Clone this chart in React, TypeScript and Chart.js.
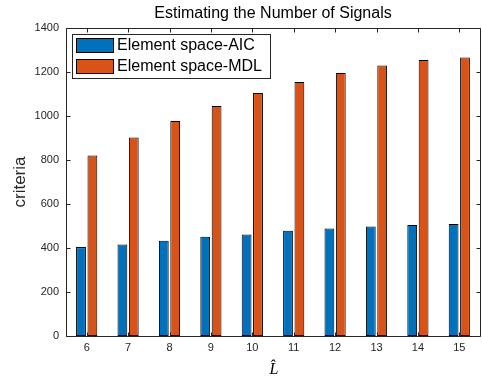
import React, { useEffect, useRef } from "react";
import { Chart, registerables } from "chart.js";

Chart.register(...registerables);

const categories = ["6", "7", "8", "9", "10", "11", "12", "13", "14", "15"];
const aicValues = [404, 416, 433, 451, 461, 478, 489, 498, 505, 509];
const mdlValues = [820, 902, 977, 1045, 1105, 1155, 1196, 1230, 1254, 1266];
const yMin = 0;
const yMax = 1400;
const yStep = 200;
const seriesNames = ["Element space-AIC", "Element space-MDL"];
const seriesColors = ["#0072BD", "#D95319"];
const titleText = "Estimating the Number of Signals";
const yLabelText = "criteria";
const xLabelText = "L\u0302";

const SANS = '"Liberation Sans", Arial, Helvetica, sans-serif';
const AXIS_COLOR = "#262626";

const decorPlugin = {
  id: "matlabDecor",
  afterDraw(chart: any) {
    const ctx = chart.ctx as CanvasRenderingContext2D;
    const { left, right, top, bottom } = chart.chartArea;
    const xs = chart.scales.x;
    const ys = chart.scales.y;
    const L = Math.round(left) + 0.5;
    const R = Math.round(right) + 0.5;
    const T = Math.round(top) + 0.5;
    const B = Math.round(bottom) + 0.5;
    ctx.save();
    ctx.strokeStyle = AXIS_COLOR;
    ctx.lineWidth = 1;
    ctx.beginPath();
    ctx.rect(L, T, R - L, B - T);
    ctx.stroke();
    const tl = 4;
    ctx.beginPath();
    for (let v = yMin; v <= yMax; v += yStep) {
      const y = Math.round(ys.getPixelForValue(v)) + 0.5;
      ctx.moveTo(L, y);
      ctx.lineTo(L + tl, y);
      ctx.moveTo(R, y);
      ctx.lineTo(R - tl, y);
    }
    categories.forEach((_, i) => {
      const x = Math.round(xs.getPixelForValue(i)) + 0.5;
      ctx.moveTo(x, B);
      ctx.lineTo(x, B - tl);
      ctx.moveTo(x, T);
      ctx.lineTo(x, T + tl);
    });
    ctx.stroke();

    const cx = (left + right) / 2;
    ctx.fillStyle = "#000";
    ctx.font = `16px ${SANS}`;
    ctx.textAlign = "center";
    ctx.textBaseline = "alphabetic";
    ctx.fillText(titleText, cx, 18);

    ctx.save();
    ctx.translate(20, (top + bottom) / 2);
    ctx.rotate(-Math.PI / 2);
    ctx.fillStyle = AXIS_COLOR;
    ctx.font = `17px ${SANS}`;
    ctx.textAlign = "center";
    ctx.textBaseline = "middle";
    ctx.fillText(yLabelText, 0, 0);
    ctx.restore();

    ctx.fillStyle = "#000";
    ctx.font = `italic 16px "Liberation Serif", "DejaVu Serif", serif`;
    ctx.textAlign = "center";
    ctx.textBaseline = "alphabetic";
    ctx.fillText(xLabelText, cx + 1, 374);

    const lx = 72.5, ly = 34.5, lw = 198, lh = 44;
    ctx.fillStyle = "#fff";
    ctx.fillRect(lx, ly, lw, lh);
    ctx.strokeStyle = AXIS_COLOR;
    ctx.strokeRect(lx, ly, lw, lh);
    seriesNames.forEach((name, i) => {
      const py = 38 + i * 21;
      ctx.fillStyle = seriesColors[i];
      ctx.fillRect(76, py, 38, 15);
      ctx.strokeStyle = "#000";
      ctx.strokeRect(76.5, py + 0.5, 37, 14);
      ctx.fillStyle = "#000";
      ctx.font = `16px ${SANS}`;
      ctx.textAlign = "left";
      ctx.textBaseline = "middle";
      ctx.fillText(name, 117, py + 8);
    });
    ctx.restore();
  },
};

export default function App() {
  const ref = useRef<HTMLCanvasElement | null>(null);
  useEffect(() => {
    if (!ref.current) return;
    const chart = new Chart(ref.current, {
      type: "bar",
      data: {
        labels: categories,
        datasets: [
          {
            label: seriesNames[0],
            data: aicValues,
            backgroundColor: seriesColors[0],
            borderColor: "#000",
            borderWidth: 1,
            borderSkipped: false,
            categoryPercentage: 0.55,
            barPercentage: 0.86,
          },
          {
            label: seriesNames[1],
            data: mdlValues,
            backgroundColor: seriesColors[1],
            borderColor: "#000",
            borderWidth: 1,
            borderSkipped: false,
            categoryPercentage: 0.55,
            barPercentage: 0.86,
          },
        ],
      },
      options: {
        responsive: false,
        animation: false,
        devicePixelRatio: 1,
        layout: { padding: { top: 28, right: 2, left: 0, bottom: 0 } },
        plugins: {
          legend: { display: false },
          title: { display: false },
          tooltip: { enabled: false },
        },
        scales: {
          x: {
            offset: true,
            grid: { display: false, drawTicks: false },
            border: { display: false },
            ticks: {
              color: AXIS_COLOR,
              font: { family: SANS, size: 11 },
              padding: 5,
              maxRotation: 0,
            },
            afterFit(scale: any) {
              scale.height = 44;
            },
          },
          y: {
            min: yMin,
            max: yMax,
            grid: { display: false, drawTicks: false },
            border: { display: false },
            ticks: {
              stepSize: yStep,
              color: AXIS_COLOR,
              font: { family: SANS, size: 11 },
              padding: 7,
              callback: (v: any) => String(v),
            },
            afterFit(scale: any) {
              scale.width = 66;
            },
          },
        },
      },
      plugins: [decorPlugin],
    });
    return () => chart.destroy();
  }, []);
  return (
    <div style={{ position: "fixed", left: 0, top: 0, width: 482, height: 380, background: "#fff" }}>
      <canvas ref={ref} width={482} height={380} />
    </div>
  );
}
